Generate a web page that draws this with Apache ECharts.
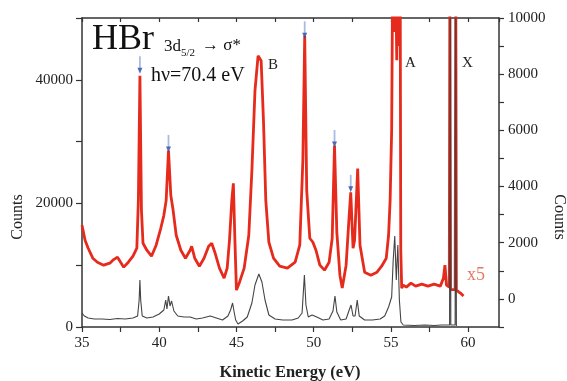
<!DOCTYPE html>
<html><head><meta charset="utf-8">
<script src="https://cdn.jsdelivr.net/npm/echarts@6/dist/echarts.min.js"></script>
<style>html,body{margin:0;padding:0;background:#fff}#c{width:567px;height:381px}</style>
</head><body><div id="c"></div>
<script>
// Gray spectrum (left axis, Counts)
const grayEnergy = [35.0,35.15,35.4,35.8,36.3,36.8,37.3,37.8,38.3,38.6,38.7,38.75,38.8,38.9,39.2,39.6,40.0,40.3,40.42,40.5,40.6,40.7,40.8,40.95,41.2,41.6,42.0,42.4,42.8,43.3,43.7,44.1,44.45,44.62,44.75,44.85,44.95,45.1,45.4,45.7,46.0,46.2,46.45,46.65,46.85,47.1,47.5,48.0,48.6,49.0,49.25,49.4,49.5,49.65,49.9,50.2,50.6,51.0,51.25,51.38,51.5,51.75,52.1,52.3,52.42,52.55,52.68,52.82,52.95,53.3,53.8,54.3,54.6,54.85,55.05,55.15,55.25,55.35,55.45,55.55,55.65,55.8,56.5,57.2,57.8,58.3,58.8,58.84,58.88,59.16,59.2,59.24];
const grayCounts = [2265,1780,1456,1294,1294,1214,1375,1294,1456,1780,4369,7605,4369,1780,1456,1618,2103,2751,4369,2912,5016,3398,4207,2589,1780,1618,1618,1294,1456,1780,1456,1133,1780,2751,3883,2427,1133,485,971,1618,3883,6796,8575,7281,4369,1942,1294,1133,1133,1456,2265,8414,3560,1618,1942,1618,1133,1294,2589,5016,2427,1133,1294,2751,3560,1780,1780,4369,1780,1133,1133,1294,1780,3236,4854,10840,14724,7605,13268,4369,809,324,243,324,243,324,324,60000,324,324,60000,162];
// Red spectrum x5 (right axis, Counts)
const redEnergy = [35.0,35.2,35.4,35.7,36.0,36.4,36.8,37.0,37.3,37.5,37.7,38.0,38.3,38.55,38.65,38.75,38.85,38.95,39.2,39.5,39.8,40.1,40.3,40.45,40.6,40.75,40.9,41.1,41.4,41.7,42.0,42.1,42.3,42.6,42.9,43.2,43.4,43.6,43.9,44.2,44.4,44.55,44.7,44.8,44.9,45.0,45.2,45.5,45.8,46.0,46.2,46.4,46.6,46.75,46.9,47.1,47.4,47.8,48.3,48.8,49.1,49.3,49.42,49.55,49.75,49.95,50.15,50.4,50.7,51.0,51.2,51.35,51.5,51.7,51.85,52.1,52.3,52.4,52.55,52.65,52.85,53.0,53.3,53.7,54.1,54.4,54.7,54.85,54.95,55.05,55.12,55.2,55.3,55.38,55.45,55.52,55.6,55.64,55.7,55.8,56.0,56.3,56.6,57.0,57.4,57.8,58.2,58.4,58.5,58.6,58.78,58.82,58.86,59.16,59.2,59.24,59.5,59.7];
const redCounts = [2621,2088,1804,1449,1307,1201,1272,1378,1485,1307,1130,1307,1520,1804,3508,7946,3153,1982,1733,1520,1911,2514,2976,3508,5283,3686,3153,2266,1733,1449,1733,1875,1449,1165,1449,1875,1982,1662,1094,739,1094,2088,3508,4112,2088,313,597,1094,2266,4573,7413,8656,8478,6348,3508,2017,1449,1165,1094,1307,1911,4928,9366,3863,2159,2017,1733,1201,1023,1307,2159,5461,2372,846,384,1201,2976,3792,1804,2088,4644,1911,952,846,952,1165,1449,2266,3508,5993,12000,9500,12000,8500,12000,9000,12000,1733,384,491,420,562,455,526,455,526,455,739,1201,491,420,12000,330,330,12000,313,207,100];
// Blue arrows marking peaks (right-axis values at arrow tips)
const arrowEnergy = [38.75,40.6,49.42,51.35,52.4];
const arrowCounts = [8017,5213,9260,5390,3793];
// Tick labels
const leftTickLabels = [0,20000,40000];
const rightTickLabels = [0,2000,4000,6000,8000,10000];
const xTickLabels = [35,40,45,50,55,60];

const F = 'Liberation Serif';
const axisColor = '#333';
const pair = (xs, ys) => xs.map((x,i)=>[x, ys[i]]);

const chart = echarts.init(document.getElementById('c'));
chart.setOption({
  animation:false,
  backgroundColor:'#fff',
  grid:{left:82,right:68,top:18,bottom:54},
  xAxis:[
    {type:'value',min:35,max:62,interval:2.5,position:'bottom',
     axisLine:{onZero:false,lineStyle:{color:axisColor,width:1.5}},
     axisTick:{show:true,inside:false,length:5,lineStyle:{color:axisColor,width:1.2}},
     axisLabel:{formatter:v=>xTickLabels.includes(v)?String(v):'',fontFamily:F,fontSize:15,color:'#222',margin:9,showMaxLabel:false},
     splitLine:{show:false}},
    {type:'value',min:35,max:62,interval:2.5,position:'top',
     axisLine:{onZero:false,lineStyle:{color:axisColor,width:1.5}},
     axisTick:{show:true,inside:true,length:4,lineStyle:{color:axisColor,width:1.2}},
     axisLabel:{show:false},splitLine:{show:false}}
  ],
  yAxis:[
    {type:'value',min:0,max:50000,interval:10000,position:'left',
     axisLine:{show:true,onZero:false,lineStyle:{color:axisColor,width:1.5}},
     axisTick:{show:true,inside:false,length:6,lineStyle:{color:axisColor,width:1.2}},
     axisLabel:{formatter:v=>leftTickLabels.includes(v)?String(v):'',fontFamily:F,fontSize:15,color:'#222',margin:9},
     splitLine:{show:false}},
    {type:'value',min:-1000,max:10000,interval:1000,position:'right',
     axisLine:{show:true,onZero:false,lineStyle:{color:axisColor,width:1.5}},
     axisTick:{show:true,inside:false,length:5,lineStyle:{color:axisColor,width:1.2}},
     axisLabel:{formatter:v=>rightTickLabels.includes(v)?String(v):'',fontFamily:F,fontSize:15,color:'#222',margin:9},
     splitLine:{show:false}}
  ],
  series:[
    {type:'line',xAxisIndex:0,yAxisIndex:1,data:pair(redEnergy,redCounts),showSymbol:false,
     lineStyle:{color:'#e62a1c',width:2.8},z:2,clip:true},
    {type:'line',xAxisIndex:0,yAxisIndex:0,data:pair(grayEnergy,grayCounts),showSymbol:false,
     lineStyle:{color:'#444',width:1.1},z:3,clip:true},
    {type:'scatter',xAxisIndex:0,yAxisIndex:1,data:pair(arrowEnergy,arrowCounts),
     symbol:'rect',symbolSize:[1.8,13],symbolOffset:[0,-11],itemStyle:{color:'#94aade'},z:5},
    {type:'scatter',xAxisIndex:0,yAxisIndex:1,data:pair(arrowEnergy,arrowCounts),
     symbol:'triangle',symbolRotate:180,symbolSize:[5,6],symbolOffset:[0,-3],itemStyle:{color:'#2c4b9c'},z:6}
  ],
  graphic:[
    {type:'text',x:92,y:40,style:{text:'HBr',font:'36px "Liberation Serif"',fill:'#111',textVerticalAlign:'middle',verticalAlign:'middle'}},
    {type:'text',x:164,y:47,style:{text:'3d',font:'17px "Liberation Serif"',fill:'#111',textVerticalAlign:'middle',verticalAlign:'middle'}},
    {type:'text',x:181,y:53,style:{text:'5/2',font:'11px "Liberation Serif"',fill:'#111',textVerticalAlign:'middle',verticalAlign:'middle'}},
    {type:'text',x:202,y:46,style:{text:'→ σ*',font:'17px "Liberation Serif"',fill:'#111',textVerticalAlign:'middle',verticalAlign:'middle'}},
    {type:'text',x:151,y:76,style:{text:'hν=70.4 eV',font:'20px "Liberation Serif"',fill:'#111',textVerticalAlign:'middle',verticalAlign:'middle'}},
    {type:'text',x:268,y:65,style:{text:'B',font:'15px "Liberation Serif"',fill:'#222',textVerticalAlign:'middle',verticalAlign:'middle'}},
    {type:'text',x:405,y:63,style:{text:'A',font:'15px "Liberation Serif"',fill:'#222',textVerticalAlign:'middle',verticalAlign:'middle'}},
    {type:'text',x:462,y:63,style:{text:'X',font:'15px "Liberation Serif"',fill:'#222',textVerticalAlign:'middle',verticalAlign:'middle'}},
    {type:'text',x:467,y:275,style:{text:'x5',font:'18px "Liberation Serif"',fill:'#e57a62',textVerticalAlign:'middle',verticalAlign:'middle'}},
    {type:'text',x:290,y:373,style:{text:'Kinetic Energy (eV)',font:'bold 16.5px "Liberation Serif"',fill:'#222',textAlign:'center',align:'center',textVerticalAlign:'middle',verticalAlign:'middle'}},
    {type:'text',x:18,y:217,rotation:Math.PI/2,style:{text:'Counts',font:'16px "Liberation Serif"',fill:'#222',textAlign:'center',align:'center',textVerticalAlign:'middle',verticalAlign:'middle'}},
    {type:'text',x:559,y:217,rotation:-Math.PI/2,style:{text:'Counts',font:'16px "Liberation Serif"',fill:'#222',textAlign:'center',align:'center',textVerticalAlign:'middle',verticalAlign:'middle'}}
  ]
});
</script></body></html>
